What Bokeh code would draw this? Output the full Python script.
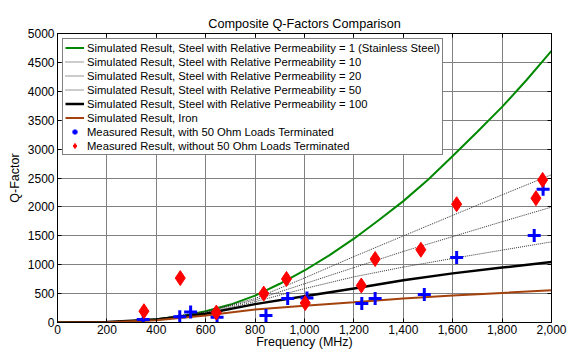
from bokeh.plotting import figure
from bokeh.models import (Range1d, LinearAxis, SingleIntervalTicker,
                          NumeralTickFormatter, Legend, LegendItem)
from bokeh.embed import file_html
from bokeh.resources import INLINE

# ---- data ----
freq_green = [0, 100, 200, 300, 400, 500, 600, 700, 800, 900, 1000,
              1100, 1200, 1300, 1400, 1500, 1600, 1700, 1800, 1900, 2000]
q_mu1 = [0, 1, 5, 20, 55, 110, 195, 310, 465, 670, 900,
         1160, 1450, 1770, 2100, 2470, 2880, 3300, 3730, 4200, 4700]

freq_sim = [0, 200, 400, 600, 800, 1000, 1200, 1400, 1600, 1800, 2000]
q_mu10 = [0, 8, 60, 190, 415, 770, 1140, 1498, 1853, 2208, 2557]
q_mu20 = [0, 8, 58, 180, 390, 670, 950, 1229, 1486, 1744, 1996]
q_mu50 = [0, 8, 55, 165, 360, 586, 790, 959, 1108, 1252, 1395]
q_mu100 = [0, 7, 50, 150, 318, 455, 590, 730, 850, 950, 1045]
q_iron = [0, 6, 40, 120, 225, 290, 350, 415, 465, 512, 557]

meas_with_f = [347, 495, 539, 646, 844, 932, 1010, 1232, 1286, 1485, 1616, 1930, 1966]
meas_with_q = [50, 98, 180, 90, 120, 414, 426, 330, 414, 483, 1126, 1505, 2305]
meas_without_f = [350, 497, 643, 835, 927, 1003, 1230, 1286, 1471, 1616, 1937, 1964]
meas_without_q = [195, 768, 172, 500, 753, 337, 640, 1098, 1259, 2046, 2150, 2466]

labels = [
    "Simulated Result, Steel with Relative Permeability = 1 (Stainless Steel)",
    "Simulated Result, Steel with Relative Permeability = 10",
    "Simulated Result, Steel with Relative Permeability = 20",
    "Simulated Result, Steel with Relative Permeability = 50",
    "Simulated Result, Steel with Relative Permeability = 100",
    "Simulated Result, Iron",
    "Measured Result, with 50 Ohm Loads Terminated",
    "Measured Result, without 50 Ohm Loads Terminated",
]

FONT = "Liberation Sans"

p = figure(width=567, height=351, output_backend="svg", toolbar_location=None,
           x_range=Range1d(0, 2000), y_range=Range1d(0, 5000),
           min_border_left=57, min_border_right=16, min_border_top=33,
           min_border_bottom=28, title="Composite Q-Factors Comparison")

p.title.text_font = FONT
p.title.text_font_size = "12.7px"
p.title.text_font_style = "normal"
p.title.align = "center"
p.title.text_color = "black"
p.title.standoff = 6

p.outline_line_color = "black"
p.outline_line_width = 1

xa = p.xaxis[0]
xa.ticker = SingleIntervalTicker(interval=200, num_minor_ticks=0)
xa.formatter = NumeralTickFormatter(format="0,0")
ya = p.yaxis[0]
ya.ticker = SingleIntervalTicker(interval=500, num_minor_ticks=0)
for ax in (xa, ya):
    ax.major_tick_in = 4
    ax.major_tick_out = 0
    ax.minor_tick_line_color = None
    ax.major_label_text_font = FONT
    ax.major_label_text_font_size = "12px"
    ax.major_label_text_color = "black"
    ax.axis_label_text_font = FONT
    ax.axis_label_text_font_size = "12.5px"
    ax.axis_label_text_font_style = "normal"
    ax.axis_label_text_color = "black"
    ax.axis_line_color = "black"
    ax.major_tick_line_color = "black"
xa.axis_label = "Frequency (MHz)"
xa.major_label_standoff = 2
xa.axis_label_standoff = -2
ya.axis_label = "Q-Factor"
ya.major_label_standoff = 3
ya.axis_label_standoff = 3

# tick-only box axes on top and right (no labels drawn)
top = LinearAxis(ticker=SingleIntervalTicker(interval=200, num_minor_ticks=0),
                 major_label_text_font_size="0px", major_label_text_color=None,
                 major_label_standoff=0,
                 major_tick_in=4, major_tick_out=0, minor_tick_line_color=None)
right = LinearAxis(ticker=SingleIntervalTicker(interval=500, num_minor_ticks=0),
                   major_label_text_font_size="0px", major_label_text_color=None,
                   major_label_standoff=0,
                   major_tick_in=4, major_tick_out=0, minor_tick_line_color=None)
p.add_layout(top, "above")
p.add_layout(right, "right")

for g in (p.xgrid[0], p.ygrid[0]):
    g.grid_line_color = "#808080"
    g.grid_line_width = 1

r1 = p.line(freq_green, q_mu1, line_color="#008800", line_width=2)
r2 = p.line(freq_sim, q_mu10, line_color="#333333", line_width=1, line_dash="1 1")
r3 = p.line(freq_sim, q_mu20, line_color="#333333", line_width=1, line_dash="1 1")
r4 = p.line(freq_sim, q_mu50, line_color="#333333", line_width=1, line_dash="1 1")
r5 = p.line(freq_sim, q_mu100, line_color="black", line_width=2.5)
r6 = p.line(freq_sim, q_iron, line_color="#a3420c", line_width=2)
r7 = p.scatter(meas_with_f, meas_with_q, marker="cross", size=13,
               line_color="#0000ff", line_width=3)
r8 = p.scatter(meas_without_f, meas_without_q, marker="diamond", size=15,
               line_color="#ff0000", fill_color="#ff0000")

rs = [r1, r2, r3, r4, r5, r6, r7, r8]
legend = Legend(items=[LegendItem(label=l, renderers=[r]) for l, r in zip(labels, rs)],
                location="top_left", margin=5, padding=2, spacing=1,
                glyph_height=13, label_height=13, glyph_width=19,
                label_standoff=3, label_text_font=FONT,
                label_text_font_size="11.25px", label_text_color="black",
                border_line_color="black", border_line_width=1.5,
                background_fill_color="white", background_fill_alpha=1)
p.add_layout(legend)

open("out.html", "w").write(file_html(p, INLINE))
